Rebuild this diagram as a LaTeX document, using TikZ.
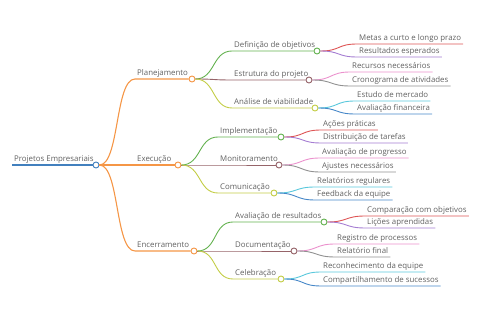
\documentclass[tikz,border=0pt]{standalone}
\usepackage{fontspec}
\setmainfont{Open Sans}
\usetikzlibrary{positioning}
\definecolor{mmblue}{RGB}{66,128,190}
\definecolor{mmorange}{RGB}{245,150,70}
\definecolor{mmgreen}{RGB}{100,178,80}
\definecolor{mmbrown}{RGB}{150,100,105}
\definecolor{mmolive}{RGB}{195,205,70}
\definecolor{mmred}{RGB}{222,85,85}
\definecolor{mmpurple}{RGB}{165,125,210}
\definecolor{mmpink}{RGB}{235,145,205}
\definecolor{mmgrey}{RGB}{145,145,145}
\definecolor{mmcyan}{RGB}{90,200,220}
\definecolor{mmsky}{RGB}{70,135,200}

\begin{document}
\begin{tikzpicture}[x=1pt, y=-1pt,
  lbl/.style={anchor=south west, inner xsep=2pt, inner ysep=1.1pt, text depth=1.8pt, font=\fontsize{7.85}{9}\selectfont, text=black!62},
  dot/.style={circle, draw=#1, fill=white, line width=0.9pt, inner sep=0pt, minimum size=6pt},
  link/.style={draw=#1, line width=0.9pt}
]
  \useasboundingbox (0,0) rectangle (480,320);

  % root
  \node[lbl] (t-root) at (12,165) {Projetos Empresariais};
  \node[dot=mmblue] (root) at (96,165) {};

  % first level
  \node[lbl] (t-plan) at (135,79) {Planejamento};
  \node[dot=mmorange] (plan) at (192,79) {};
  \node[lbl] (t-exec) at (135,165) {Execução};
  \node[dot=mmorange] (exec) at (178,165) {};
  \node[lbl] (t-ence) at (135,251) {Encerramento};
  \node[dot=mmorange] (ence) at (194,251) {};

  % second level
  \node[lbl] (t-defi) at (232,51) {Definição de objetivos};
  \node[dot=mmgreen] (defi) at (317,51) {};
  \node[lbl] (t-estr) at (232,80) {Estrutura do projeto};
  \node[dot=mmbrown] (estr) at (309,80) {};
  \node[lbl] (t-anal) at (232,108) {Análise de viabilidade};
  \node[dot=mmolive] (anal) at (315,108) {};
  \node[lbl] (t-impl) at (218,137) {Implementação};
  \node[dot=mmgreen] (impl) at (281,137) {};
  \node[lbl] (t-moni) at (218,165) {Monitoramento};
  \node[dot=mmbrown] (moni) at (279,165) {};
  \node[lbl] (t-comu) at (218,193) {Comunicação};
  \node[dot=mmolive] (comu) at (274,193) {};
  \node[lbl] (t-aval) at (233,222) {Avaliação de resultados};
  \node[dot=mmgreen] (aval) at (324,222) {};
  \node[lbl] (t-docu) at (233,251) {Documentação};
  \node[dot=mmbrown] (docu) at (294,251) {};
  \node[lbl] (t-cele) at (233,279) {Celebração};
  \node[dot=mmolive] (cele) at (281,279) {};

  % leaves
  \node[lbl] (metas) at (357,44) {Metas a curto e longo prazo};
  \node[lbl] (result) at (357,57) {Resultados esperados};
  \node[lbl] (recur) at (350,72) {Recursos necessários};
  \node[lbl] (crono) at (350,86) {Cronograma de atividades};
  \node[lbl] (estudo) at (355,101) {Estudo de mercado};
  \node[lbl] (financ) at (355,114) {Avaliação financeira};
  \node[lbl] (acoes) at (321,130) {Ações práticas};
  \node[lbl] (distr) at (321,143) {Distribuição de tarefas};
  \node[lbl] (progr) at (320,158) {Avaliação de progresso};
  \node[lbl] (ajust) at (320,172) {Ajustes necessários};
  \node[lbl] (relat) at (315,187) {Relatórios regulares};
  \node[lbl] (feedb) at (315,200) {Feedback da equipe};
  \node[lbl] (compar) at (365,216) {Comparação com objetivos};
  \node[lbl] (licoes) at (365,228) {Lições aprendidas};
  \node[lbl] (regis) at (335,244) {Registro de processos};
  \node[lbl] (relfin) at (335,257) {Relatório final};
  \node[lbl] (recon) at (321,272) {Reconhecimento da equipe};
  \node[lbl] (compart) at (321,286) {Compartilhamento de sucessos};

  % connectors
  \draw[link=mmblue, line width=1.2pt] (t-root.south west) -- (root.west);
  \foreach \a/\b in {plan/root, exec/root, ence/root}
    \draw[link=mmorange, line width=1.1pt] (\b.east) .. controls +(20,0) and +(-20,0) .. (t-\a.south west) -- (\a.west);
  \foreach \a/\b/\c in {defi/plan/mmgreen, estr/plan/mmbrown, anal/plan/mmolive,
                        impl/exec/mmgreen, moni/exec/mmbrown, comu/exec/mmolive,
                        aval/ence/mmgreen, docu/ence/mmbrown, cele/ence/mmolive}
    \draw[link=\c] (\b.east) .. controls +(20,0) and +(-20,0) .. (t-\a.south west) -- (\a.west);
  \foreach \a/\b/\c in {metas/defi/mmred, result/defi/mmpurple, recur/estr/mmpink, crono/estr/mmgrey,
                        estudo/anal/mmcyan, financ/anal/mmsky, acoes/impl/mmred, distr/impl/mmpurple,
                        progr/moni/mmpink, ajust/moni/mmgrey, relat/comu/mmcyan, feedb/comu/mmsky,
                        compar/aval/mmred, licoes/aval/mmpurple, regis/docu/mmpink, relfin/docu/mmgrey,
                        recon/cele/mmcyan, compart/cele/mmsky}
    \draw[link=\c] (\b.east) .. controls +(20,0) and +(-20,0) .. (\a.south west) -- (\a.south east);
\end{tikzpicture}
\end{document}
